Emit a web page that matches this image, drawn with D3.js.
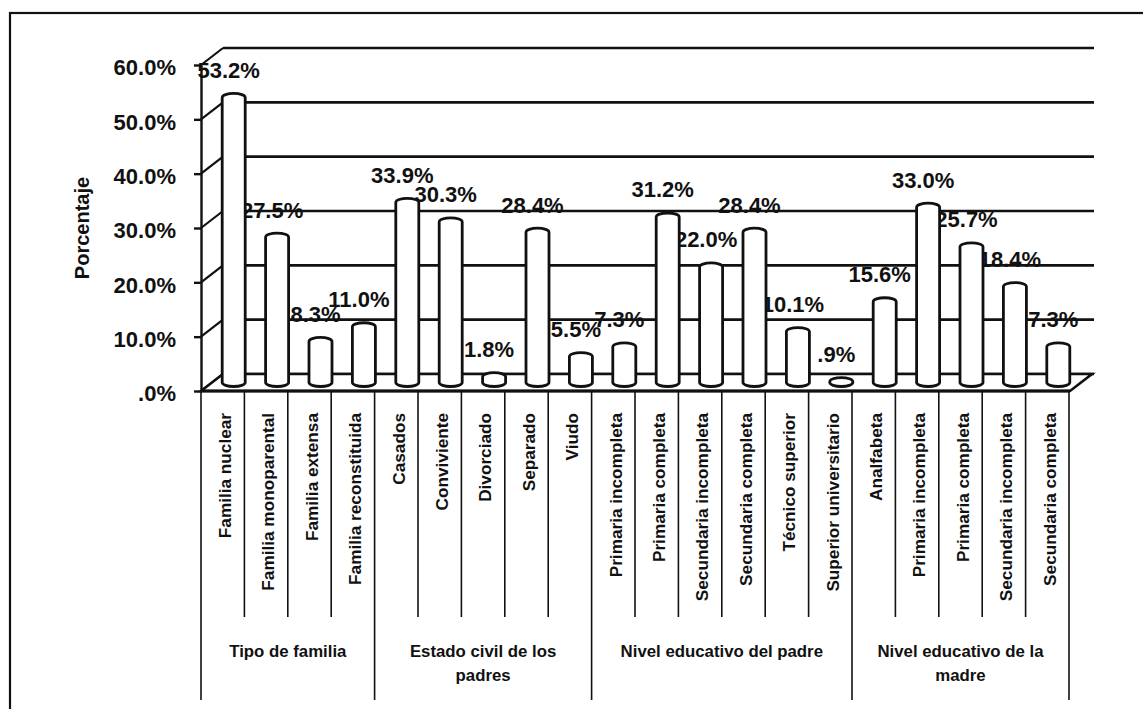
<!DOCTYPE html>
<html>
<head>
<meta charset="utf-8">
<script src="https://cdn.jsdelivr.net/npm/d3@7"></script>
<style>
  body { margin: 0; background: #fff; }
  text { font-family: "Liberation Sans", Arial, sans-serif; fill: #111; }
</style>
</head>
<body>
<script>
// data
const categories = [
  "Familia nuclear", "Familia monoparental", "Familia extensa", "Familia reconstituida",
  "Casados", "Conviviente", "Divorciado", "Separado", "Viudo",
  "Primaria incompleta", "Primaria completa", "Secundaria incompleta", "Secundaria completa", "Técnico superior", "Superior universitario",
  "Analfabeta", "Primaria incompleta", "Primaria completa", "Secundaria incompleta", "Secundaria completa"
];
const values = [
  53.2, 27.5, 8.3, 11.0,
  33.9, 30.3, 1.8, 28.4, 5.5,
  7.3, 31.2, 22.0, 28.4, 10.1, 0.9,
  15.6, 33.0, 25.7, 18.4, 7.3
];
const groupNames = [
  ["Tipo de familia"],
  ["Estado civil de los", "padres"],
  ["Nivel educativo del padre"],
  ["Nivel educativo de la", "madre"]
];
const groupSizes = [4, 5, 6, 5];
const tickValues = [0, 10, 20, 30, 40, 50, 60];
const tickLabels = [".0%", "10.0%", "20.0%", "30.0%", "40.0%", "50.0%", "60.0%"];

const width = 1143, height = 709;
const dx = 22, dy = -17;          // depth offset of the back wall

const svg = d3.select("body").append("svg")
  .attr("width", width)
  .attr("height", height);

svg.append("rect")
  .attr("width", width).attr("height", height)
  .attr("fill", "#fff");

// outer frame (cut by the picture on right and bottom)
svg.append("rect")
  .attr("x", 10).attr("y", 13)
  .attr("width", 1200).attr("height", 800)
  .attr("fill", "none").attr("stroke", "#111").attr("stroke-width", 2.2);

const y = d3.scaleLinear().domain([0, 60]).range([391, 65]);
const x = d3.scaleBand()
  .domain(d3.range(categories.length))
  .range([201, 1069])
  .padding(0);

const xL = x.range()[0], xR = x.range()[1];
const bw = x.bandwidth() * 0.53;
const ry = 4;
const barCx = i => x(i) + x.bandwidth() / 2 + dx / 2;
const yMid = v => y(v) + dy / 2;
const fmt = v => v.toFixed(1).replace(/^0/, "") + "%";

// data labels (drawn first, gridlines and bars pass over them like in the source)
svg.append("g").selectAll("text")
  .data(values)
  .enter()
  .append("text")
    .attr("x", (d, i) => barCx(i) - 5)
    .attr("y", d => yMid(d) - 15.5)
    .attr("text-anchor", "middle")
    .attr("font-size", 22)
    .attr("font-weight", "bold")
    .text(d => fmt(d));

// back wall gridlines
svg.append("g").selectAll("line")
  .data(tickValues)
  .enter()
  .append("line")
    .attr("x1", xL + dx).attr("x2", xR + dx + 3)
    .attr("y1", d => y(d) + dy).attr("y2", d => y(d) + dy)
    .attr("stroke", "#111").attr("stroke-width", 2.6);

// side wall slants
svg.append("g").selectAll("line")
  .data(tickValues)
  .enter()
  .append("line")
    .attr("x1", xL).attr("x2", xL + dx)
    .attr("y1", d => y(d)).attr("y2", d => y(d) + dy)
    .attr("stroke", "#111").attr("stroke-width", 2.2);

// floor
svg.append("path")
  .attr("d", `M${xL},${y(0)} L${xR + 1},${y(0)} L${xR + 1 + dx},${y(0) + dy} L${xL + dx},${y(0) + dy} Z`)
  .attr("fill", "#fff").attr("stroke", "#111").attr("stroke-width", 2.6)
  .attr("stroke-linejoin", "miter");

// cylinders
svg.append("g").selectAll("path")
  .data(values)
  .enter()
  .append("path")
    .attr("d", (d, i) => {
      const l = barCx(i) - bw / 2, r = barCx(i) + bw / 2;
      const t = Math.min(yMid(d) + ry, yMid(0) - 0.5), b = yMid(0);
      return `M${l},${b} L${l},${t} A${bw / 2},${ry} 0 0 1 ${r},${t} L${r},${b} A${bw / 2},${ry} 0 0 1 ${l},${b} Z`;
    })
    .attr("fill", "#fff")
    .attr("stroke", "#111")
    .attr("stroke-width", 2.8);

// front value axis
const yAxis = svg.append("g")
  .attr("transform", `translate(${xL},0)`)
  .call(d3.axisLeft(y)
    .tickValues(tickValues)
    .tickSize(7)
    .tickSizeOuter(0)
    .tickPadding(18)
    .tickFormat((d, i) => tickLabels[i]));
yAxis.selectAll("path, line").attr("stroke", "#111").attr("stroke-width", 2.4);
yAxis.selectAll("text")
  .attr("font-size", 22)
  .attr("font-weight", "bold")
  .attr("font-family", "Liberation Sans, Arial, sans-serif")
  .attr("fill", "#111")
  .attr("dy", "0.45em");

// front edge of the floor
svg.append("line")
  .attr("x1", xL).attr("x2", xR + 1)
  .attr("y1", y(0)).attr("y2", y(0))
  .attr("stroke", "#111").attr("stroke-width", 3);

// category separators below the axis
const groupEnds = Array.from(d3.cumsum(groupSizes));
const groupStarts = [0].concat(groupEnds.slice(0, -1));
const edgeX = k => k < categories.length ? x(k) : xR;
const edges = d3.range(categories.length + 1);
svg.append("g").selectAll("line")
  .data(edges)
  .enter()
  .append("line")
    .attr("x1", d => edgeX(d))
    .attr("x2", d => edgeX(d))
    .attr("y1", y(0))
    .attr("y2", d => (d === 0 || groupEnds.includes(d)) ? 700 : 617)
    .attr("stroke", "#111").attr("stroke-width", 1.6);

// category labels, rotated
svg.append("g").selectAll("text")
  .data(categories)
  .enter()
  .append("text")
    .attr("transform", (d, i) => `translate(${x(i) + x.bandwidth() / 2 + 2},413) rotate(-90)`)
    .attr("text-anchor", "end")
    .attr("dy", "0.36em")
    .attr("font-size", 17.2)
    .attr("font-weight", "bold")
    .text(d => d);

// group labels
const groups = svg.append("g").selectAll("text")
  .data(groupNames)
  .enter()
  .append("text")
    .attr("text-anchor", "middle")
    .attr("font-size", 16.8)
    .attr("font-weight", "bold")
    .attr("transform", (d, i) => {
      const a = edgeX(groupStarts[i]);
      const b = edgeX(groupEnds[i]);
      return `translate(${(a + b) / 2},657)`;
    });
groups.selectAll("tspan")
  .data(d => d)
  .enter()
  .append("tspan")
    .attr("x", 0)
    .attr("dy", (d, j) => j === 0 ? 0 : 23.5)
    .text(d => d);

// axis title
svg.append("text")
  .attr("transform", `translate(89,228) rotate(-90)`)
  .attr("text-anchor", "middle")
  .attr("font-size", 20)
  .attr("font-weight", "bold")
  .text("Porcentaje");
</script>
</body>
</html>
